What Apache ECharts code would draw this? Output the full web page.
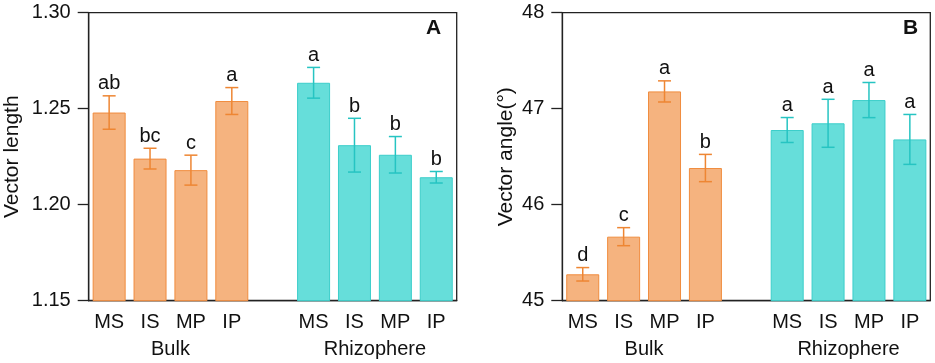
<!DOCTYPE html>
<html>
<head>
<meta charset="utf-8">
<script src="https://cdn.jsdelivr.net/npm/echarts@6/dist/echarts.min.js"></script>
<style>
  html, body { margin: 0; padding: 0; background: #fff; }
  #chart { width: 935px; height: 363px; }
</style>
</head>
<body>
<div id="chart"></div>
<script>
(function () {

	// 数据
	var treatments = ['MS', 'IS', 'MP', 'IP'];
	var groups = ['Bulk', 'Rhizophere'];

	var lengthBulk = [1.248, 1.224, 1.218, 1.254];
	var lengthBulkErr = [0.0087, 0.0054, 0.0078, 0.0070];
	var lengthBulkLetters = ['ab', 'bc', 'c', 'a'];
	var lengthRhizo = [1.2635, 1.231, 1.226, 1.2143];
	var lengthRhizoErr = [0.0080, 0.0140, 0.0095, 0.0030];
	var lengthRhizoLetters = ['a', 'b', 'b', 'b'];

	var angleBulk = [45.275, 45.667, 47.18, 46.382];
	var angleBulkErr = [0.07, 0.094, 0.11, 0.142];
	var angleBulkLetters = ['d', 'c', 'a', 'b'];
	var angleRhizo = [46.778, 46.848, 47.09, 46.68];
	var angleRhizoErr = [0.13, 0.25, 0.183, 0.26];
	var angleRhizoLetters = ['a', 'a', 'a', 'a'];

	var lengthTicks = { min: 1.15, max: 1.30, interval: 0.05 };
	var angleTicks = { min: 45, max: 48, interval: 1 };

	var orangeFill = '#F5B37F', orangeLine = '#F08C3E', orangeErr = '#EE8633';
	var tealFill = '#66DEDA', tealLine = '#3CCECA', tealErr = '#26C4C2';
	var axisColor = '#222';
	var font = 'Liberation Sans, Arial, sans-serif';

	// 类别轴：4 + 空位 + 4
	var categories = [];
	treatments.forEach(function (t) { categories.push(groups[0] + '|' + t); });
	categories.push('gap|');
	treatments.forEach(function (t) { categories.push(groups[1] + '|' + t); });

	// 分组标签轴（10 个刻度，boundaryGap false，标签落在组中心）
	var groupAxis = ['', '', groups[0], '', '', '', '', groups[1], '', ''];

	function barData(bulk, rhizo) {
		var out = [];
		bulk.forEach(function (v) {
			out.push({ value: v, itemStyle: { color: orangeFill, borderColor: orangeLine } });
		});
		out.push(null);
		rhizo.forEach(function (v) {
			out.push({ value: v, itemStyle: { color: tealFill, borderColor: tealLine } });
		});
		return out;
	}

	function errData(bulk, bulkErr, bulkLet, rhizo, rhizoErr, rhizoLet) {
		var out = [];
		bulk.forEach(function (v, i) {
			out.push({ value: [i, v, bulkErr[i]], letter: bulkLet[i], color: orangeErr });
		});
		rhizo.forEach(function (v, i) {
			out.push({ value: [i + 5, v, rhizoErr[i]], letter: rhizoLet[i], color: tealErr });
		});
		return out;
	}

	function errSeries(xi, yi, items) {
		return {
			type: 'custom',
			xAxisIndex: xi,
			yAxisIndex: yi,
			data: items.map(function (d) { return d.value; }),
			encode: { x: 0, y: 1 },
			z: 5,
			clip: false,
			renderItem: function (params, api) {
				var item = items[params.dataIndex];
				var x = api.value(0), v = api.value(1), e = api.value(2);
				var hi = api.coord([x, v + e]);
				var lo = api.coord([x, v - e]);
				var cap = 6.5;
				var ls = { stroke: item.color, lineWidth: 1.5 };
				return {
					type: 'group',
					children: [
						{ type: 'line', shape: { x1: hi[0], y1: hi[1], x2: lo[0], y2: lo[1] }, style: ls },
						{ type: 'line', shape: { x1: hi[0] - cap, y1: hi[1], x2: hi[0] + cap, y2: hi[1] }, style: ls },
						{ type: 'line', shape: { x1: lo[0] - cap, y1: lo[1], x2: lo[0] + cap, y2: lo[1] }, style: ls },
						{
							type: 'text',
							style: {
								text: item.letter,
								x: hi[0],
								y: hi[1] - 2,
								align: 'center',
								verticalAlign: 'bottom',
								fill: '#111',
								font: '20px ' + font
							}
						}
					]
				};
			}
		};
	}

	function catAxis(gi) {
		return {
			gridIndex: gi,
			type: 'category',
			data: categories,
			axisLine: { show: true, onZero: false, lineStyle: { color: axisColor, width: 1.3 } },
			axisTick: { show: false },
			axisLabel: {
				interval: 0,
				margin: 12,
				fontSize: 20,
				color: '#111',
				fontFamily: font,
				formatter: function (v) { return v.split('|')[1]; }
			}
		};
	}

	function grpAxis(gi) {
		return {
			gridIndex: gi,
			type: 'category',
			position: 'bottom',
			data: groupAxis,
			boundaryGap: false,
			axisLine: { show: false },
			axisTick: { show: false },
			axisLabel: {
				interval: 0,
				margin: 39,
				fontSize: 20,
				color: '#111',
				fontFamily: font
			}
		};
	}

	function valAxis(gi, ticks, name, gap, digits) {
		return {
			gridIndex: gi,
			type: 'value',
			min: ticks.min,
			max: ticks.max,
			interval: ticks.interval,
			name: name,
			nameLocation: 'middle',
			nameGap: gap,
			nameTextStyle: { fontSize: 21, color: '#111', fontFamily: font },
			axisLine: { show: true, lineStyle: { color: axisColor, width: 1.3 } },
			axisTick: { show: true, inside: false, length: 11, lineStyle: { color: axisColor, width: 1.3 } },
			axisLabel: {
				margin: 18,
				fontSize: 20,
				color: '#111',
				fontFamily: font,
				formatter: function (v) { return v.toFixed(digits); }
			},
			splitLine: { show: false }
		};
	}

	var chart = echarts.init(document.getElementById('chart'), null, { renderer: 'canvas' });

	chart.setOption({
		animation: false,
		backgroundColor: '#fff',
		grid: [
			{ left: 88.7, top: 12.7, width: 368, height: 288, show: true, borderColor: axisColor, borderWidth: 1.3, backgroundColor: 'transparent' },
			{ left: 562.3, top: 12.7, width: 368, height: 288, show: true, borderColor: axisColor, borderWidth: 1.3, backgroundColor: 'transparent' }
		],
		xAxis: [catAxis(0), grpAxis(0), catAxis(1), grpAxis(1)],
		yAxis: [
			valAxis(0, lengthTicks, 'Vector length', 66, 2),
			valAxis(1, angleTicks, 'Vector angle(°)', 46, 0)
		],
		graphic: [
			{ type: 'text', left: 426, top: 18, style: { text: 'A', font: 'bold 21px ' + font, fill: '#111' } },
			{ type: 'text', left: 903, top: 18, style: { text: 'B', font: 'bold 21px ' + font, fill: '#111' } }
		],
		series: [
			{
				type: 'bar',
				xAxisIndex: 0,
				yAxisIndex: 0,
				barWidth: 33,
				itemStyle: { borderWidth: 1 },
				data: barData(lengthBulk, lengthRhizo)
			},
			errSeries(0, 0, errData(lengthBulk, lengthBulkErr, lengthBulkLetters, lengthRhizo, lengthRhizoErr, lengthRhizoLetters)),
			{
				type: 'bar',
				xAxisIndex: 2,
				yAxisIndex: 1,
				barWidth: 33,
				itemStyle: { borderWidth: 1 },
				data: barData(angleBulk, angleRhizo)
			},
			errSeries(2, 1, errData(angleBulk, angleBulkErr, angleBulkLetters, angleRhizo, angleRhizoErr, angleRhizoLetters))
		]
	});
})();
</script>
</body>
</html>
